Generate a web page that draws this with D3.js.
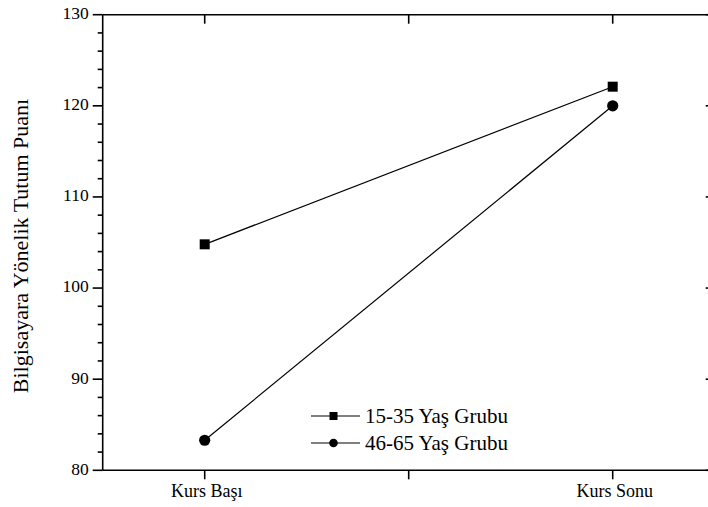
<!DOCTYPE html>
<html><head><meta charset="utf-8">
<script src="https://cdn.jsdelivr.net/npm/d3@7"></script>
<style>
html,body{margin:0;padding:0;background:#fff;}
svg{display:block;}
text{font-family:'Liberation Serif','Times New Roman',Times,'DejaVu Serif',serif;}
</style></head>
<body>
<svg id="chart" width="708" height="507"></svg>
<script>
const categories = ["Kurs Başı", "Kurs Sonu"];
const categoryPos = [1, 3];
const xTickValues = [1, 2, 3];
const xTickLabels = ["Kurs Başı", "", "Kurs Sonu"];
const seriesNames = ["15-35 Yaş Grubu", "46-65 Yaş Grubu"];
const young = [104.8, 122.1];
const old = [83.3, 120.0];
const yMajorTicks = [80, 90, 100, 110, 120, 130];
const yMinorTicks = d3.range(80, 131, 2);
const yTitle = "Bilgisayara Yönelik Tutum Puanı";

const FONT = "'Liberation Serif','Times New Roman',Times,serif";
const svg = d3.select("#chart");
const L = 102.7, R = 714.7, T = 14.7, B = 470.3;
const x = d3.scaleLinear().domain([0.5, 3.5]).range([L, R]);
const y = d3.scaleLinear().domain([80, 130]).range([B, T]);

const axW = 1.6;
const ax = svg.append("g").attr("stroke", "#000").attr("stroke-width", axW);
ax.append("line").attr("x1", L).attr("x2", R).attr("y1", T).attr("y2", T);
ax.append("line").attr("x1", L).attr("x2", R).attr("y1", B).attr("y2", B);
ax.append("line").attr("x1", L).attr("x2", L).attr("y1", T).attr("y2", B);
ax.append("line").attr("x1", R).attr("x2", R).attr("y1", T).attr("y2", B);

yMinorTicks.forEach(v => {
  const major = yMajorTicks.includes(v);
  ax.append("line").attr("x1", L - (major ? 10 : 5)).attr("x2", L)
    .attr("y1", y(v)).attr("y2", y(v));
  ax.append("line").attr("x1", R - (major ? 9 : 5)).attr("x2", R)
    .attr("y1", y(v)).attr("y2", y(v));
});
svg.append("g").selectAll("text").data(yMajorTicks).join("text")
  .attr("font-family", FONT)
  .attr("x", L - 14).attr("y", d => y(d)).attr("dy", "0.25em")
  .attr("text-anchor", "end").attr("font-size", 17.5).text(d => d);

xTickValues.forEach(v => {
  ax.append("line").attr("x1", x(v)).attr("x2", x(v)).attr("y1", B).attr("y2", B + 9);
  ax.append("line").attr("x1", x(v)).attr("x2", x(v)).attr("y1", T).attr("y2", T + 9);
});
svg.append("g").selectAll("text").data(xTickValues).join("text")
  .attr("font-family", FONT)
  .attr("x", d => x(d) + 2).attr("y", B + 26.5)
  .attr("text-anchor", "middle").attr("font-size", 18)
  .text((d, i) => xTickLabels[i]);

svg.append("text").attr("font-family", FONT)
  .attr("transform", `translate(28,246) rotate(-90)`)
  .attr("text-anchor", "middle").attr("font-size", 22).text(yTitle);

const line = d3.line().x((d, i) => x(categoryPos[i])).y(d => y(d));
[young, old].forEach(s => {
  svg.append("path").datum(s).attr("d", line)
    .attr("fill", "none").attr("stroke", "#000").attr("stroke-width", 1.2);
});
svg.append("g").selectAll("rect").data(young).join("rect")
  .attr("x", (d, i) => x(categoryPos[i]) - 5).attr("y", d => y(d) - 5)
  .attr("width", 10).attr("height", 10).attr("fill", "#000");
svg.append("g").selectAll("circle").data(old).join("circle")
  .attr("cx", (d, i) => x(categoryPos[i])).attr("cy", d => y(d))
  .attr("r", 5.6).attr("fill", "#000");

const lg = svg.append("g");
const rows = [416, 443];
seriesNames.forEach((n, i) => {
  const yy = rows[i];
  lg.append("line").attr("x1", 311).attr("x2", 360).attr("y1", yy).attr("y2", yy)
    .attr("stroke", "#000").attr("stroke-width", 1.2);
  if (i === 0) lg.append("rect").attr("x", 329.5).attr("y", yy - 4).attr("width", 8).attr("height", 8);
  else lg.append("circle").attr("cx", 333.5).attr("cy", yy).attr("r", 4.3);
  lg.append("text").attr("font-family", FONT).attr("x", 365).attr("y", yy).attr("dy", "0.33em")
    .attr("font-size", 21).text(n);
});
</script>
</body></html>
